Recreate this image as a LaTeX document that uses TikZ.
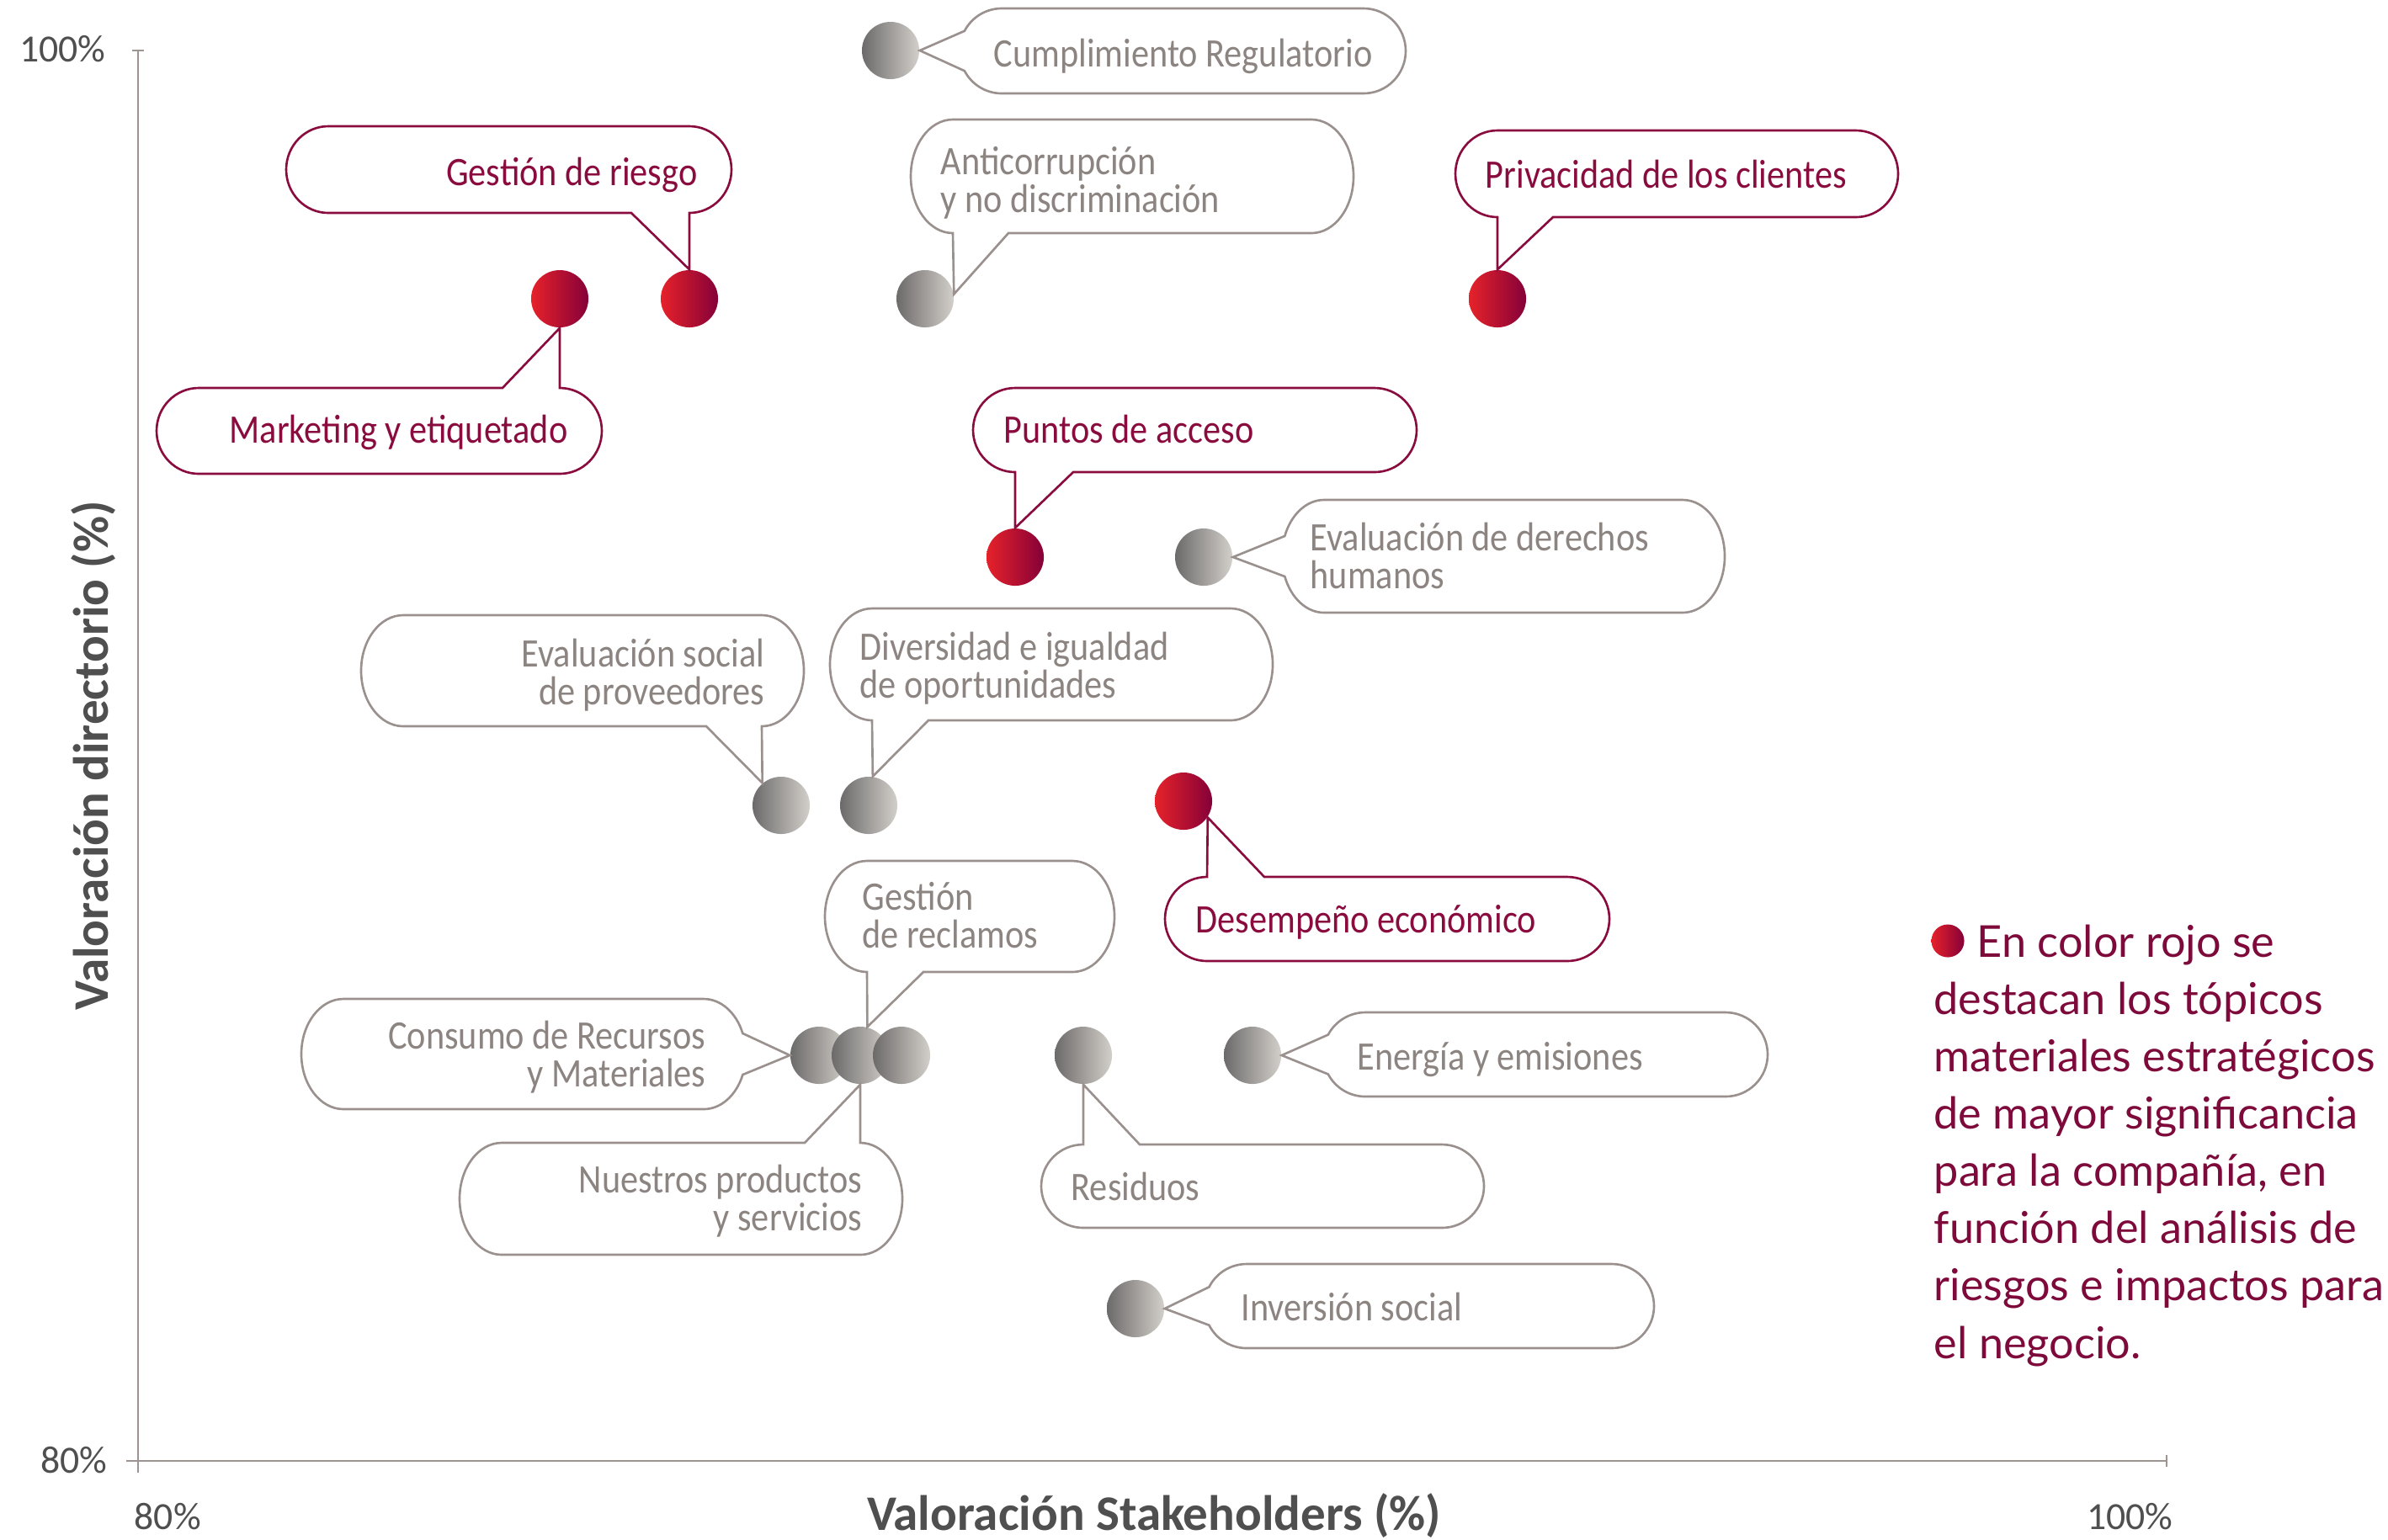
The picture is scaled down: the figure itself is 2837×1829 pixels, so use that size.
\documentclass[tikz,border=0pt]{standalone}
\usepackage{fontspec}
\setmainfont{Carlito}
\newfontfamily\lblfont[FakeStretch=0.88]{Carlito}
\newfontfamily\legfont{Lato}
\definecolor{burg}{HTML}{8A0B3E}
\definecolor{bgray}{HTML}{9A918E}
\definecolor{tgray}{HTML}{8C8481}
\definecolor{axgray}{HTML}{9E9592}
\definecolor{dkgray}{HTML}{4F4F4F}
\definecolor{redL}{HTML}{E6222A}
\definecolor{redR}{HTML}{850038}
\definecolor{grayL}{HTML}{6C6A6A}
\definecolor{grayR}{HTML}{D3CFCA}
\definecolor{legred}{HTML}{7E0A3B}
% bubble with tail at bottom: style, L, T, R, B, left join x, right join x, tip
\newcommand\bubbot[8]{%
 \draw[#1] ({#2+50},#3) -- ({#4-50},#3)
   arc[start angle=-90,end angle=90,x radius=50,y radius={(#5-#3)/2}]
   -- (#7,#5) -- (#8) -- (#6,#5) -- ({#2+50},#5)
   arc[start angle=90,end angle=270,x radius=50,y radius={(#5-#3)/2}] -- cycle;}
% bubble with tail at top
\newcommand\bubtop[8]{%
 \draw[#1] ({#2+50},#3) -- (#6,#3) -- (#8) -- (#7,#3) -- ({#4-50},#3)
   arc[start angle=-90,end angle=90,x radius=50,y radius={(#5-#3)/2}]
   -- ({#2+50},#5)
   arc[start angle=90,end angle=270,x radius=50,y radius={(#5-#3)/2}] -- cycle;}
% bubble with tail at left: style, L, T, R, B, alpha, tip
\newcommand\bubleft[7]{%
 \draw[#1] ({#2+50},#3) -- ({#4-50},#3)
   arc[start angle=-90,end angle=90,x radius=50,y radius={(#5-#3)/2}]
   -- ({#2+50},#5)
   arc[start angle=90,end angle={180-#6},x radius=50,y radius={(#5-#3)/2}]
   -- (#7) -- ({#2+50-50*cos(#6)},{(#3+#5)/2-(#5-#3)/2*sin(#6)})
   arc[start angle={180+#6},end angle=270,x radius=50,y radius={(#5-#3)/2}] -- cycle;}
% bubble with tail at right
\newcommand\bubright[7]{%
 \draw[#1] ({#2+50},#3) -- ({#4-50},#3)
   arc[start angle=-90,end angle={-#6},x radius=50,y radius={(#5-#3)/2}]
   -- (#7) -- ({#4-50+50*cos(#6)},{(#3+#5)/2+(#5-#3)/2*sin(#6)})
   arc[start angle={#6},end angle=90,x radius=50,y radius={(#5-#3)/2}]
   -- ({#2+50},#5)
   arc[start angle=90,end angle=270,x radius=50,y radius={(#5-#3)/2}] -- cycle;}
\begin{document}
\begin{tikzpicture}[x=0.01cm,y=0.01cm,yscale=-1,
  reddot/.style={circle,inner sep=0pt,minimum size=0.68cm,left color=redL,right color=redR},
  graydot/.style={circle,inner sep=0pt,minimum size=0.68cm,left color=grayL,right color=grayR},
  redbox/.style={draw=burg,line width=0.75pt,fill=white},
  graybox/.style={draw=bgray,line width=0.75pt,fill=white},
  lbl/.style={inner sep=0pt,font=\lblfont\fontsize{13.66pt}{12.8pt}\selectfont},
  redlbl/.style={lbl,text=burg},
  graylbl/.style={lbl,text=tgray},
  axisline/.style={draw=axgray,line width=0.5pt},
  ticklbl/.style={inner sep=0pt,text=dkgray,font=\fontsize{13pt}{13pt}\selectfont},
  axtitle/.style={inner sep=0pt,text=dkgray,font=\bfseries\fontsize{16.8pt}{17pt}\selectfont}]
\useasboundingbox (0,0) rectangle (2837,1829);
\fill[white] (0,0) rectangle (2837,1829);

% axes
\draw[axisline] (164,60) -- (164,1750);
\draw[axisline] (157,60) -- (171,60);
\draw[axisline,line width=0.8pt] (150,1736) -- (2574,1736);
\draw[axisline] (2574,1729) -- (2574,1743);
\node[ticklbl,anchor=base east] (t100y) at (126,73) {100\%};
\node[ticklbl,anchor=base east] (t80y) at (128,1750) {80\%};
\node[ticklbl,anchor=base west] (t80x) at (159,1817) {80\%};
\node[ticklbl,anchor=base east] (t100x) at (2582,1817) {100\%};
\node[axtitle,anchor=base] (xtitle) at (1371,1818) {Valoración Stakeholders (\%)};
\node[axtitle,anchor=base,rotate=90] (ytitle) at (128,898) {Valoración directorio (\%)};

% dots
\node[graydot] (dP) at (1058,60) {};
\node[reddot] (dB) at (665,355) {};
\node[reddot] (dA) at (819,355) {};
\node[graydot] (dC) at (1099,355) {};
\node[reddot] (dD) at (1779,355) {};
\node[reddot] (dE) at (1206,662) {};
\node[graydot] (dF) at (1430,662) {};
\node[graydot] (dG) at (928,957) {};
\node[graydot] (dH) at (1032,957) {};
\node[reddot] (dI) at (1406,952) {};
\node[graydot] (dK1) at (973,1254) {};
\node[graydot] (dK2) at (1022,1254) {};
\node[graydot] (dK3) at (1071,1254) {};
\node[graydot] (dM) at (1287,1254) {};
\node[graydot] (dN) at (1488,1254) {};
\node[graydot] (dO) at (1349,1555) {};

% callouts
\bubleft{graybox}{1140}{10}{1670}{111}{28}{dP.east}
\node[graylbl,anchor=base west] (lP) at (1180,79) {Cumplimiento Regulatorio};

\bubbot{redbox}{340}{150}{869}{253}{750}{819}{dA.north}
\node[redlbl,anchor=base east] (lA) at (829,220) {Gestión de riesgo};

\bubtop{redbox}{186}{461}{715}{563}{597}{665}{dB.south}
\node[redlbl,anchor=base east] (lB) at (675,526) {Marketing y etiquetado};

\bubbot{graybox}{1082}{142}{1608}{277}{1132}{1198}{dC.9}
\node[graylbl,anchor=base west,align=left] (lC) at (1117,252) {Anticorrupción\\y no discriminación};

\bubbot{redbox}{1729}{155}{2255}{258}{1779}{1845}{dD.north}
\node[redlbl,anchor=base west] (lD) at (1764,223) {Privacidad de los clientes};

\bubbot{redbox}{1156}{461}{1683}{561}{1206}{1275}{dE.north}
\node[redlbl,anchor=base west] (lE) at (1192,526) {Puntos de acceso};

\bubleft{graybox}{1523}{594}{2049}{728}{21}{dF.east}
\node[graylbl,anchor=base west,align=left] (lF) at (1556,699) {Evaluación de derechos\\humanos};

\bubbot{graybox}{429}{731}{955}{863}{839}{905}{dG.130}
\node[graylbl,anchor=base east,align=right] (lG) at (909,837) {Evaluación social\\de proveedores};

\bubbot{graybox}{986}{723}{1512}{856}{1036}{1103}{dH.82}
\node[graylbl,anchor=base west,align=left] (lH) at (1021,829) {Diversidad e igualdad\\de oportunidades};

\bubtop{redbox}{1384}{1042}{1912}{1142}{1434}{1502}{dI.-34}
\node[redlbl,anchor=base west] (lI) at (1420,1108) {Desempeño económico};

\bubbot{graybox}{980}{1023}{1324}{1155}{1030}{1097}{dK2.76}
\node[graylbl,anchor=base west,align=left] (lJ) at (1024,1126) {Gestión\\de reclamos};

\bubright{graybox}{358}{1187}{886}{1318}{22}{dK1.west}
\node[graylbl,anchor=base east,align=right] (lK) at (839,1291) {Consumo de Recursos\\y Materiales};

\bubtop{graybox}{546}{1358}{1072}{1491}{956}{1022}{dK2.south}
\node[graylbl,anchor=base east,align=right] (lL) at (1025,1462) {Nuestros productos\\y servicios};

\bubtop{graybox}{1237}{1360}{1763}{1459}{1287}{1354}{dM.south}
\node[graylbl,anchor=base west] (lM) at (1272,1426) {Residuos};

\bubleft{graybox}{1572}{1203}{2100}{1303}{28}{dN.east}
\node[graylbl,anchor=base west] (lN) at (1612,1271) {Energía y emisiones};

\bubleft{graybox}{1431}{1502}{1965}{1602}{27}{dO.east}
\node[graylbl,anchor=base west] (lO) at (1474,1569) {Inversión social};

% legend
\node[circle,inner sep=0pt,minimum size=0.39cm,left color=redL,right color=redR] (legdot) at (2314,1118) {};
\node[inner sep=0pt,anchor=base west,align=left,text=legred,
      font=\legfont\fontsize{14.85pt}{19.35pt}\selectfont] (legend) at (2297,1614)
  {\hspace*{0.51cm}En color rojo se\\destacan los tópicos\\materiales estratégicos\\de mayor significancia\\para la compañía, en\\función del análisis de\\riesgos e impactos para\\el negocio.};
\end{tikzpicture}
\end{document}
